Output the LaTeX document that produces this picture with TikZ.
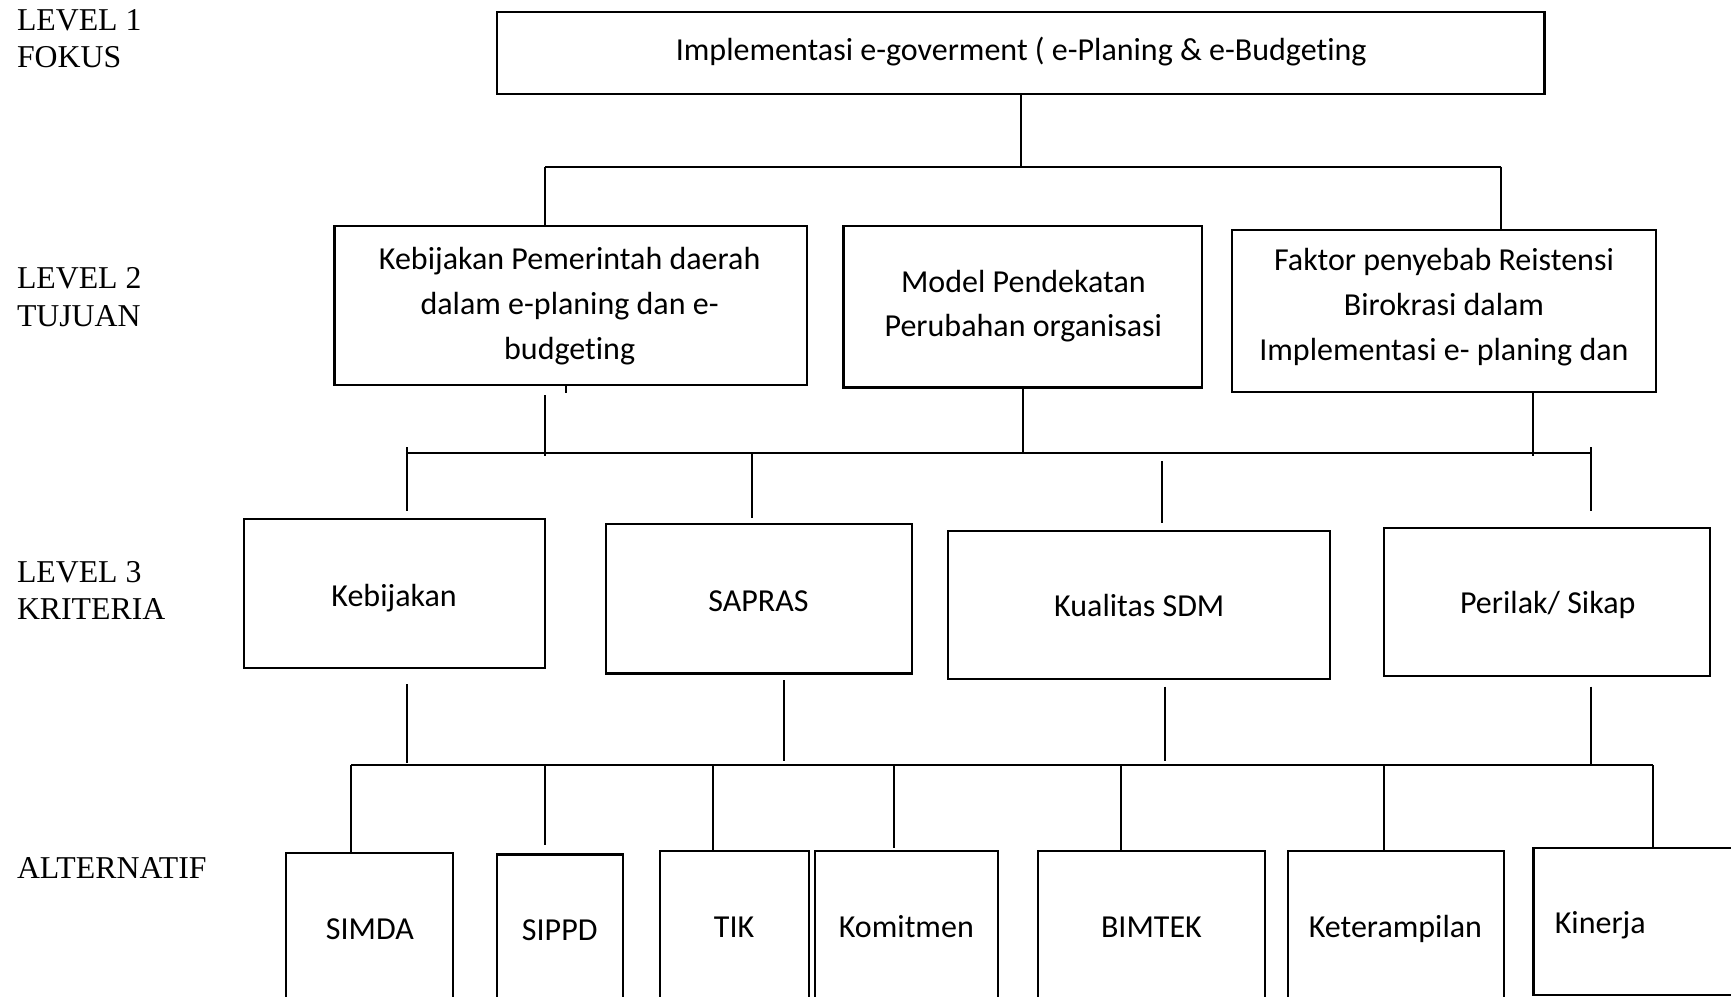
\documentclass[tikz,border=0pt]{standalone}
\usepackage{fontspec}
\setmainfont{Liberation Serif}
\newfontfamily\calfont[Ligatures={NoCommon,NoContextual}]{Carlito}
\usetikzlibrary{fit}
\begin{document}
\begin{tikzpicture}[x=0.5pt,y=-0.5pt,
  box/.style={draw,line width=1pt,inner sep=0pt},
  txt/.style={font=\calfont\fontsize{14.5}{20.5}\selectfont,anchor=base,inner sep=0pt},
  lab/.style={font=\fontsize{14.4}{17}\selectfont,anchor=base west,inner sep=0pt},
  conn/.style={line width=0.9pt}]
\useasboundingbox (0,0) rectangle (1568,903);
\clip (0,0) rectangle (1568,903);
\fill[white] (0,0) rectangle (1568,903);

% level labels
\node[lab] (l1a) at (15,27.5) {LEVEL 1};
\node[lab] (l1b) at (15,61.5) {FOKUS};
\node[lab] (l2a) at (15,261.5) {LEVEL 2};
\node[lab] (l2b) at (15,295.5) {TUJUAN};
\node[lab] (l3a) at (15,527.5) {LEVEL 3};
\node[lab] (l3b) at (15,561.5) {KRITERIA};
\node[lab] (l4a) at (15,795.5) {ALTERNATIF};

% level 1
\node[box,fit={(450,11)(1399,85)}] (top) {};
\node[txt] (ttop) at (925,55) {Implementasi e-goverment ( e-Planing \& e-Budgeting};

% level 2
\node[box,fit={(303,205)(731,349)}] (A) {};
\node[txt] (tA1) at (516,244) {Kebijakan Pemerintah daerah};
\node[txt] (tA2) at (516,285) {dalam e-planing dan e-};
\node[txt] (tA3) at (516,326) {budgeting};
\node[box,fit={(764,205)(1089,351)}] (B) {};
\node[txt] (tB1) at (927,265) {Model Pendekatan};
\node[txt] (tB2) at (927,305) {Perubahan organisasi};
\node[box,fit={(1116,208)(1500,355)}] (C) {};
\node[txt] (tC1) at (1308,245) {Faktor penyebab Reistensi};
\node[txt] (tC2) at (1308,286) {Birokrasi dalam};
\node[txt] (tC3) at (1308,327) {Implementasi e- planing dan};

% level 3
\node[box,fit={(221,470)(494,605)}] (K1) {};
\node[txt] (tK1) at (357,549) {Kebijakan};
\node[box,fit={(549,475)(826,610)}] (K2) {};
\node[txt] (tK2) at (687,554) {SAPRAS};
\node[box,fit={(859,481)(1205,615)}] (K3) {};
\node[txt] (tK3) at (1032,558) {Kualitas SDM};
\node[box,fit={(1254,478)(1549,612)}] (K4) {};
\node[txt] (tK4) at (1402,556) {Perilak/ Sikap};

% alternatives
\node[box,fit={(259,773)(410,940)}] (S1) {};
\node[txt] (tS1) at (335,851) {SIMDA};
\node[box,fit={(450,774)(564,940)}] (S2) {};
\node[txt] (tS2) at (507,852) {SIPPD};
\node[box,fit={(598,771)(733,940)}] (S3) {};
\node[txt] (tS3) at (665,849) {TIK};
\node[box,fit={(738,771)(904,940)}] (S4) {};
\node[txt] (tS4) at (821,849) {Komitmen};
\node[box,fit={(940,771)(1146,940)}] (S5) {};
\node[txt] (tS5) at (1043,849) {BIMTEK};
\node[box,fit={(1167,771)(1362,940)}] (S6) {};
\node[txt] (tS6) at (1264,849) {Keterampilan};
\node[box,fit={(1389,768)(1590,901)}] (S7) {};
\node[txt,anchor=base west] (tS7) at (1408,846) {Kinerja};

% bus coordinates
\coordinate (b1L) at (494,151);
\coordinate (b1R) at (1360,151);
\coordinate (b2L) at (369,410);
\coordinate (b2R) at (1441,410);
\coordinate (b3L) at (318,693);
\coordinate (b3R) at (1497,693);
\coordinate (d3) at (646,693);
\coordinate (d5) at (1015,693);
\coordinate (d6) at (1254,693);

% connectors level1 -> level2
\draw[conn] (top.south) -- (top.south |- b1L);
\draw[conn] (b1L) -- (b1R);
\draw[conn] (b1L) -- (b1L |- A.north);
\draw[conn] (b1R) -- (b1R |- C.north);

% level2 -> level3
\draw[conn] (513,349) -- (513,356);
\draw[conn] (494,358) -- (494,413);
\draw[conn] (B.south) -- (B.south |- b2L);
\draw[conn] (1389,355) -- (1389,413);
\draw[conn] (b2L) -- (b2R);
\draw[conn] (369,405) -- (369,463);
\draw[conn] (681,410) -- (681,469);
\draw[conn] (1053,418) -- (1053,474);
\draw[conn] (1441,405) -- (1441,463);

% level3 -> alternatives
\draw[conn] (369,620) -- (369,691);
\draw[conn] (710,616) -- (710,689);
\draw[conn] (1055,622) -- (1055,689);
\draw[conn] (1441,622) -- (1441,693);
\draw[conn] (b3L) -- (b3R);
\draw[conn] (b3L) -- (b3L |- S1.north);
\draw[conn] (494,693) -- (494,765);
\draw[conn] (d3) -- (d3 |- S3.north);
\draw[conn] (810,693) -- (810,768);
\draw[conn] (d5) -- (d5 |- S5.north);
\draw[conn] (d6) -- (d6 |- S6.north);
\draw[conn] (b3R) -- (b3R |- S7.north);
\end{tikzpicture}
\end{document}
